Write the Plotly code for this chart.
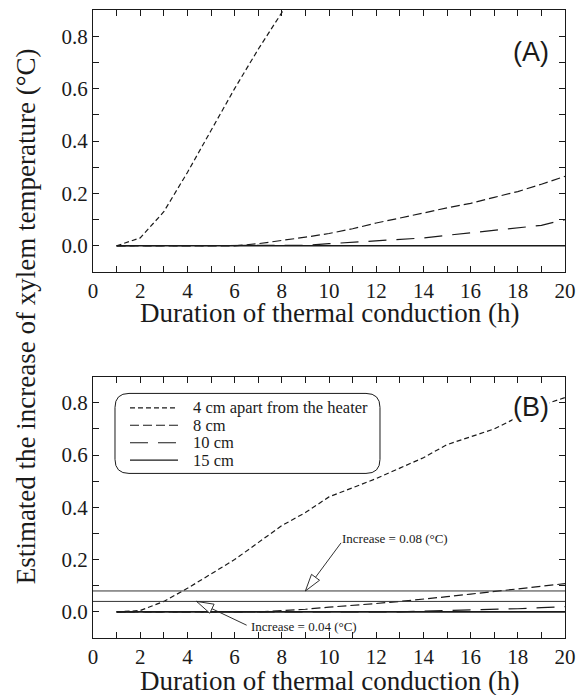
import math
import plotly.graph_objects as go

# ---- data ----
hours = [1, 2, 3, 4, 5, 6, 7, 8, 9, 10, 11, 12, 13, 14, 15, 16, 17, 18, 19, 20]

# panel (A)
a_4cm = [0.0, 0.03, 0.13, 0.28, 0.44, 0.60, 0.75, 0.89, 1.03]
a_8cm = [0.0, 0.0, 0.0, 0.0, 0.0, 0.0, 0.008, 0.02, 0.033, 0.047,
         0.065, 0.087, 0.105, 0.125, 0.145, 0.162, 0.185, 0.207, 0.235, 0.265]
a_10cm = [0.0, 0.0, 0.0, 0.0, 0.0, 0.0, 0.0, 0.0, 0.002, 0.008,
          0.013, 0.02, 0.025, 0.03, 0.04, 0.05, 0.06, 0.068, 0.078, 0.10]
a_15cm = [0.0, 0.0, 0.0, 0.0, 0.0, 0.0, 0.0, 0.0, 0.0, 0.0,
          0.0, 0.0, 0.0, 0.0, 0.0, 0.0, 0.0, 0.0, 0.0, 0.0]

# panel (B)
b_4cm = [0.0, 0.005, 0.04, 0.09, 0.145, 0.20, 0.265, 0.33, 0.38, 0.44,
         0.475, 0.51, 0.55, 0.59, 0.64, 0.67, 0.70, 0.745, 0.79, 0.82]
b_8cm = [0.0, 0.0, 0.0, 0.0, 0.0, 0.0, 0.0, 0.005, 0.01, 0.018,
         0.024, 0.032, 0.04, 0.048, 0.058, 0.068, 0.078, 0.088, 0.098, 0.108]
b_10cm = [0.0, 0.0, 0.0, 0.0, 0.0, 0.0, 0.0, 0.0, 0.0, 0.0,
          0.0, 0.0, 0.0, 0.003, 0.005, 0.007, 0.009, 0.012, 0.016, 0.02]
b_15cm = [0.0, 0.0, 0.0, 0.0, 0.0, 0.0, 0.0, 0.0, 0.0, 0.0,
          0.0, 0.0, 0.0, 0.0, 0.0, 0.0, 0.0, 0.0, 0.0, 0.0]

series_names = ["4 cm apart from the heater", "8 cm", "10 cm", "15 cm"]
thresholds = [0.08, 0.04]

INK = "#1a1a1a"
SERIF = "Liberation Serif"
styles = {
    "4 cm apart from the heater": dict(dash="5px,3px", width=1.2),
    "8 cm": dict(dash="9px,4px", width=1.2),
    "10 cm": dict(dash="18px,10px", width=1.2),
    "15 cm": dict(dash="solid", width=1.6),
}

W, H = 587, 695
M = dict(l=93, r=22, t=10, b=57)
top_dom = [0.5828, 1.0]
bot_dom = [0.0, 0.4161]
X_RANGE = [0, 20]
Y_RANGE = [-0.1, 0.9]

fig = go.Figure()

panels = [
    ("x", "y", [a_4cm, a_8cm, a_10cm, a_15cm]),
    ("x2", "y2", [b_4cm, b_8cm, b_10cm, b_15cm]),
]
for xa, ya, data in panels:
    for name, vals in zip(series_names, data):
        st = styles[name]
        fig.add_trace(go.Scatter(
            x=hours[:len(vals)], y=vals, mode="lines", name=name,
            line=dict(color=INK, width=st["width"], dash=st["dash"]),
            xaxis=xa, yaxis=ya, showlegend=False, hoverinfo="skip",
        ))

# threshold lines in (B)
for t in thresholds:
    fig.add_shape(type="line", xref="x2 domain", yref="y2", x0=0, x1=1, y0=t, y1=t,
                  line=dict(color="#333333", width=1))

# pixel scale of panel B, used for the hollow arrow heads
plot_w = W - M["l"] - M["r"]
plot_h = H - M["t"] - M["b"]
xs = plot_w / (X_RANGE[1] - X_RANGE[0])
ys = plot_h * (bot_dom[1] - bot_dom[0]) / (Y_RANGE[1] - Y_RANGE[0])


def hollow_arrow(tip, tail, label, label_pos, length=17, half=5):
    # shaft
    fig.add_shape(type="line", xref="x2", yref="y2", x0=tail[0], y0=tail[1],
                  x1=tip[0], y1=tip[1], line=dict(color=INK, width=0.9))
    dx = (tail[0] - tip[0]) * xs
    dy = (tail[1] - tip[1]) * ys
    n = math.hypot(dx, dy)
    ux, uy = dx / n, dy / n
    px, py = -uy, ux
    bx, by = ux * length, uy * length
    c1 = (bx + half * px, by + half * py)
    c2 = (bx - half * px, by - half * py)
    path = f"M0,0 L{c1[0]:.2f},{c1[1]:.2f} L{c2[0]:.2f},{c2[1]:.2f} Z"
    fig.add_shape(type="path", xref="x2", yref="y2", xsizemode="pixel", ysizemode="pixel",
                  xanchor=tip[0], yanchor=tip[1], path=path,
                  fillcolor="white", line=dict(color=INK, width=0.9))
    fig.add_annotation(xref="x2", yref="y2", x=label_pos[0], y=label_pos[1], text=label,
                       showarrow=False, xanchor="left", yanchor="middle",
                       font=dict(family=SERIF, size=13, color=INK))


hollow_arrow((9.0, 0.08), (10.51, 0.264), "Increase = 0.08 (°C)", (10.45, 0.281))
hollow_arrow((4.39, 0.04), (6.51, -0.051), "Increase = 0.04 (°C)", (6.6, -0.055))

# legend box (rounded) drawn in pixels, anchored to panel B domain
bw, bh, r = 265, 80, 14
box = (f"M{r},0 L{bw - r},0 Q{bw},0 {bw},{-r} L{bw},{-(bh - r)} Q{bw},{-bh} {bw - r},{-bh} "
       f"L{r},{-bh} Q0,{-bh} 0,{-(bh - r)} L0,{-r} Q0,0 {r},0 Z")
anchor_x, anchor_y = 0.0466, 0.936
fig.add_shape(type="path", xref="x2 domain", yref="y2 domain", xsizemode="pixel",
              ysizemode="pixel", xanchor=anchor_x, yanchor=anchor_y, path=box,
              fillcolor="white", line=dict(color=INK, width=1))
for i, name in enumerate(series_names):
    yy = -(14.5 + 17.4 * i)
    st = styles[name]
    fig.add_shape(type="line", xref="x2 domain", yref="y2 domain", xsizemode="pixel",
                  ysizemode="pixel", xanchor=anchor_x, yanchor=anchor_y,
                  x0=15, x1=63, y0=yy, y1=yy,
                  line=dict(color=INK, width=1.1, dash=st["dash"]))
    fig.add_annotation(xref="x2 domain", yref="y2 domain", x=anchor_x, y=anchor_y,
                       xshift=76, yshift=yy, text=name, showarrow=False,
                       xanchor="left", yanchor="middle",
                       font=dict(family=SERIF, size=16.5, color=INK))

# panel tags
fig.add_annotation(xref="x domain", yref="y domain", x=0.927, y=0.838, text="(A)",
                   showarrow=False, xanchor="center", yanchor="middle",
                   font=dict(family="Liberation Sans", size=27, color=INK))
fig.add_annotation(xref="x2 domain", yref="y2 domain", x=0.929, y=0.883, text="(B)",
                   showarrow=False, xanchor="center", yanchor="middle",
                   bgcolor="white", borderpad=0,
                   font=dict(family="Liberation Sans", size=27, color=INK))

# axis titles
xtitle = "Duration of thermal conduction (h)"
fig.add_annotation(xref="x domain", yref="y domain", x=0.5, y=0, yshift=-41, text=xtitle,
                   showarrow=False, xanchor="center", yanchor="middle",
                   font=dict(family=SERIF, size=27, color=INK))
fig.add_annotation(xref="x2 domain", yref="y2 domain", x=0.5, y=0, yshift=-43, text=xtitle,
                   showarrow=False, xanchor="center", yanchor="middle",
                   font=dict(family=SERIF, size=27, color=INK))
fig.add_annotation(xref="paper", yref="paper", x=-0.142, y=0.5125, textangle=-90,
                   text="Estimated the increase of xylem temperature (°C)", showarrow=False,
                   xanchor="center", yanchor="middle", font=dict(family=SERIF, size=27, color=INK))

axis_common = dict(
    showline=True, linecolor=INK, linewidth=1.2, mirror="ticks",
    ticks="inside", ticklen=6, tickwidth=1, tickcolor=INK,
    showgrid=False, zeroline=False,
    tickfont=dict(family=SERIF, size=21, color=INK),
)
xaxis = dict(axis_common, range=X_RANGE, tick0=0, dtick=2,
             minor=dict(dtick=1, ticks="inside", ticklen=6, tickcolor=INK, showgrid=False))
yaxis = dict(axis_common, range=Y_RANGE, tick0=0, dtick=0.2, tickformat=".1f",
             minor=dict(dtick=0.1, ticks="inside", ticklen=6, tickcolor=INK, showgrid=False))

fig.update_layout(
    width=W, height=H,
    margin=dict(M, pad=0),
    plot_bgcolor="white", paper_bgcolor="white",
    showlegend=False,
    xaxis=dict(xaxis, domain=[0, 1], anchor="y"),
    yaxis=dict(yaxis, domain=top_dom, anchor="x"),
    xaxis2=dict(xaxis, domain=[0, 1], anchor="y2"),
    yaxis2=dict(yaxis, domain=bot_dom, anchor="x2"),
)

# the page body has a default 8px margin; drop it so the figure sits at (0, 0)
fig.write_html("out.html", config={"displayModeBar": False},
               post_script="document.body.style.margin='0';")
